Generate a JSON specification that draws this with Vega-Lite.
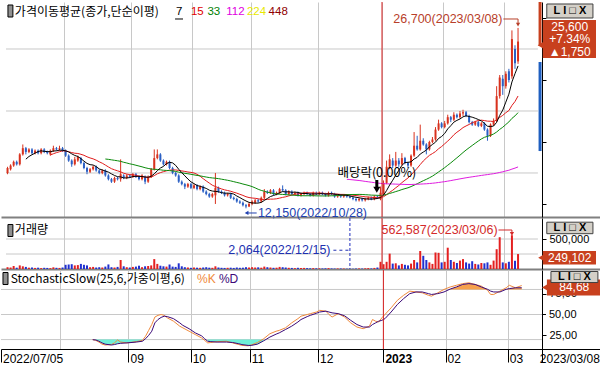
{
"$schema": "https://vega.github.io/schema/vega-lite/v6.json",
"padding": 0,
"spacing": 1,
"bounds": "flush",
"background": "white",
"config": {"view": {"stroke": null}, "text": {"font": "Liberation Sans"}, "axis": {"labelOverlap": false}},
"datasets": {"p": [
{"i":0,"o":15000,"h":15500,"l":14900,"c":15400,"v":30000},
{"i":1,"o":15300,"h":15700,"l":15200,"c":15600,"v":25000},
{"i":2,"o":15600,"h":16000,"l":15500,"c":15900,"v":50000},
{"i":3,"o":15900,"h":16000,"l":15600,"c":15700,"v":22000},
{"i":4,"o":15700,"h":16600,"l":15600,"c":16500,"v":60000},
{"i":5,"o":16500,"h":17300,"l":16400,"c":17000,"v":45000},
{"i":6,"o":17000,"h":17100,"l":16500,"c":16700,"v":35000},
{"i":7,"o":16700,"h":17000,"l":16600,"c":16900,"v":22000},
{"i":8,"o":16900,"h":17000,"l":16500,"c":16600,"v":25000},
{"i":9,"o":16600,"h":16900,"l":16500,"c":16800,"v":18000},
{"i":10,"o":16800,"h":16900,"l":16500,"c":16600,"v":22000},
{"i":11,"o":16600,"h":17000,"l":16500,"c":16900,"v":15000},
{"i":12,"o":16900,"h":17000,"l":16600,"c":16700,"v":20000},
{"i":13,"o":16700,"h":16800,"l":16500,"c":16600,"v":18000},
{"i":14,"o":16500,"h":16900,"l":16400,"c":16800,"v":15000},
{"i":15,"o":16800,"h":17200,"l":16700,"c":17000,"v":28000},
{"i":16,"o":17000,"h":17100,"l":16800,"c":16900,"v":20000},
{"i":17,"o":16900,"h":17200,"l":16800,"c":17000,"v":18000},
{"i":18,"o":17000,"h":17100,"l":16700,"c":16800,"v":25000},
{"i":19,"o":16800,"h":16900,"l":16300,"c":16400,"v":70000},
{"i":20,"o":16400,"h":16500,"l":15900,"c":16000,"v":75000},
{"i":21,"o":16000,"h":16100,"l":15500,"c":15700,"v":80000},
{"i":22,"o":15700,"h":16300,"l":15600,"c":16100,"v":60000},
{"i":23,"o":16000,"h":16400,"l":15900,"c":16300,"v":65000},
{"i":24,"o":16200,"h":16300,"l":15700,"c":15800,"v":85000},
{"i":25,"o":15800,"h":15900,"l":15300,"c":15400,"v":70000},
{"i":26,"o":15400,"h":15500,"l":14900,"c":15100,"v":60000},
{"i":27,"o":15100,"h":15400,"l":15000,"c":15300,"v":30000},
{"i":28,"o":15300,"h":15600,"l":15200,"c":15500,"v":35000},
{"i":29,"o":15500,"h":15600,"l":15100,"c":15200,"v":25000,"k":20,"d":19.8},
{"i":30,"o":15200,"h":15300,"l":14900,"c":15000,"v":30000,"k":19,"d":19.5},
{"i":31,"o":15000,"h":15300,"l":14900,"c":15200,"v":25000,"k":17,"d":18},
{"i":32,"o":15200,"h":15300,"l":14700,"c":14800,"v":40000,"k":14.5,"d":16},
{"i":33,"o":14800,"h":14900,"l":14400,"c":14500,"v":76000,"k":13.5,"d":14.5},
{"i":34,"o":14500,"h":14600,"l":14200,"c":14300,"v":30000},
{"i":35,"o":14300,"h":14700,"l":14200,"c":14600,"v":25000,"k":14,"d":13.5},
{"i":36,"o":14600,"h":14700,"l":14400,"c":14500,"v":35000,"k":16,"d":14},
{"i":37,"o":14500,"h":16100,"l":14300,"c":14900,"v":150000,"k":19.5,"d":15},
{"i":38,"o":14800,"h":14900,"l":14500,"c":14600,"v":45000,"k":17,"d":15.5},
{"i":39,"o":14600,"h":14900,"l":14500,"c":14800,"v":30000},
{"i":40,"o":14800,"h":14900,"l":14600,"c":14700,"v":25000,"k":16,"d":16},
{"i":41,"o":14700,"h":15000,"l":14600,"c":14900,"v":35000},
{"i":42,"o":14900,"h":15000,"l":14600,"c":14700,"v":40000},
{"i":43,"o":14700,"h":14800,"l":14400,"c":14500,"v":55000,"k":17.5,"d":17},
{"i":44,"o":14500,"h":14900,"l":14400,"c":14800,"v":30000},
{"i":45,"o":14700,"h":14800,"l":14100,"c":14300,"v":45000,"k":19,"d":18},
{"i":46,"o":14300,"h":14800,"l":14200,"c":14700,"v":50000,"k":24,"d":21},
{"i":47,"o":14700,"h":15400,"l":14600,"c":15300,"v":60000,"k":31,"d":25},
{"i":48,"o":15300,"h":16900,"l":15200,"c":16200,"v":165000,"k":38,"d":30},
{"i":49,"o":16200,"h":16900,"l":16100,"c":16500,"v":85000,"k":47,"d":40},
{"i":50,"o":16500,"h":16600,"l":15900,"c":16000,"v":55000,"k":49,"d":44},
{"i":51,"o":16000,"h":16100,"l":15600,"c":15700,"v":45000,"k":50,"d":46.5},
{"i":52,"o":15700,"h":16000,"l":15600,"c":15900,"v":40000,"k":49,"d":48},
{"i":53,"o":15900,"h":16000,"l":15300,"c":15400,"v":75000,"k":46,"d":47.5},
{"i":54,"o":15400,"h":15500,"l":14900,"c":15000,"v":40000},
{"i":55,"o":15000,"h":15100,"l":14700,"c":14800,"v":35000,"k":42,"d":45},
{"i":56,"o":14800,"h":14900,"l":14200,"c":14300,"v":95000},
{"i":57,"o":14300,"h":14400,"l":14000,"c":14100,"v":45000,"k":36,"d":40},
{"i":58,"o":14100,"h":14200,"l":13700,"c":13900,"v":30000,"k":34,"d":37},
{"i":59,"o":13900,"h":14200,"l":13800,"c":14100,"v":25000},
{"i":60,"o":14100,"h":14200,"l":13700,"c":13800,"v":20000,"k":30,"d":33},
{"i":61,"o":13800,"h":14100,"l":13700,"c":14000,"v":25000},
{"i":62,"o":14000,"h":14100,"l":13600,"c":13700,"v":22000,"k":26,"d":28},
{"i":63,"o":13700,"h":14000,"l":13600,"c":13900,"v":20000},
{"i":64,"o":13900,"h":14000,"l":13400,"c":13500,"v":25000,"k":22,"d":24.5},
{"i":65,"o":13500,"h":13600,"l":13200,"c":13300,"v":30000,"k":19,"d":21},
{"i":66,"o":13300,"h":13400,"l":13000,"c":13100,"v":22000,"k":16,"d":18},
{"i":67,"o":13100,"h":13400,"l":13000,"c":13300,"v":20000,"k":16.5,"d":17.5},
{"i":68,"o":13200,"h":15000,"l":12500,"c":13800,"v":45000},
{"i":69,"o":13800,"h":13900,"l":13400,"c":13500,"v":25000,"k":17.5,"d":17},
{"i":70,"o":13500,"h":13600,"l":13300,"c":13400,"v":20000},
{"i":71,"o":13400,"h":13500,"l":13100,"c":13200,"v":18000},
{"i":72,"o":13200,"h":13400,"l":13100,"c":13300,"v":20000,"k":18,"d":17},
{"i":73,"o":13300,"h":13400,"l":12900,"c":13000,"v":22000},
{"i":74,"o":13000,"h":13100,"l":12800,"c":12900,"v":18000,"k":16,"d":16.5},
{"i":75,"o":12900,"h":13000,"l":12600,"c":12700,"v":25000},
{"i":76,"o":12700,"h":12800,"l":12500,"c":12600,"v":20000,"k":14,"d":15},
{"i":77,"o":12600,"h":12700,"l":12300,"c":12400,"v":22000,"k":13,"d":14},
{"i":78,"o":12400,"h":12500,"l":12150,"c":12300,"v":30000},
{"i":79,"o":12300,"h":12600,"l":12250,"c":12500,"v":25000,"k":12.5,"d":13},
{"i":80,"o":12500,"h":12800,"l":12400,"c":12700,"v":30000,"k":13.5,"d":13},
{"i":81,"o":12600,"h":12900,"l":12500,"c":12800,"v":25000},
{"i":82,"o":12800,"h":12900,"l":12600,"c":12700,"v":28000,"k":16.5,"d":14.5},
{"i":83,"o":12700,"h":13100,"l":12600,"c":13000,"v":22000},
{"i":84,"o":13000,"h":13700,"l":12900,"c":13500,"v":40000,"k":21,"d":18.5},
{"i":85,"o":13500,"h":13600,"l":13300,"c":13400,"v":30000},
{"i":86,"o":13400,"h":13700,"l":13300,"c":13600,"v":25000,"k":27,"d":23},
{"i":87,"o":13600,"h":13700,"l":13200,"c":13300,"v":20000},
{"i":88,"o":13300,"h":13500,"l":13200,"c":13400,"v":22000,"k":30,"d":26.5},
{"i":89,"o":13400,"h":13800,"l":13300,"c":13700,"v":35000,"k":31,"d":28},
{"i":90,"o":13700,"h":14000,"l":13500,"c":13600,"v":30000},
{"i":91,"o":13600,"h":13700,"l":13200,"c":13300,"v":25000,"k":34,"d":32},
{"i":92,"o":13300,"h":13600,"l":13200,"c":13500,"v":20000},
{"i":93,"o":13500,"h":13600,"l":13200,"c":13300,"v":18000,"k":40,"d":36},
{"i":94,"o":13300,"h":13500,"l":13200,"c":13400,"v":15000},
{"i":95,"o":13400,"h":13500,"l":13100,"c":13200,"v":20000,"k":45,"d":41},
{"i":96,"o":13200,"h":13400,"l":13100,"c":13300,"v":15000,"k":48,"d":44},
{"i":97,"o":13300,"h":13500,"l":13200,"c":13400,"v":18000},
{"i":98,"o":13400,"h":13500,"l":13200,"c":13300,"v":15000,"k":50,"d":47.5},
{"i":99,"o":13300,"h":13400,"l":13100,"c":13200,"v":12000,"k":51,"d":49},
{"i":100,"o":13200,"h":13500,"l":13100,"c":13400,"v":15000},
{"i":101,"o":13400,"h":13500,"l":13200,"c":13300,"v":12000,"k":53,"d":51.5},
{"i":102,"o":13300,"h":13500,"l":13200,"c":13400,"v":12000,"k":55,"d":53},
{"i":103,"o":13400,"h":13500,"l":13200,"c":13300,"v":10000},
{"i":104,"o":13300,"h":13400,"l":13100,"c":13200,"v":12000,"k":54,"d":54},
{"i":105,"o":13200,"h":13500,"l":13100,"c":13400,"v":15000,"k":50,"d":53},
{"i":106,"o":13400,"h":13500,"l":13200,"c":13300,"v":10000,"k":47,"d":52},
{"i":107,"o":13300,"h":13400,"l":13000,"c":13100,"v":8000},
{"i":108,"o":13100,"h":13300,"l":13000,"c":13200,"v":10000,"k":51,"d":51},
{"i":109,"o":13200,"h":13300,"l":13000,"c":13100,"v":9000},
{"i":110,"o":13100,"h":13300,"l":13000,"c":13200,"v":8000,"k":47,"d":48.5},
{"i":111,"o":13200,"h":13300,"l":13000,"c":13100,"v":6000},
{"i":112,"o":13100,"h":13200,"l":12950,"c":13000,"v":2064,"k":40,"d":43},
{"i":113,"o":13000,"h":13100,"l":12800,"c":12900,"v":5000},
{"i":114,"o":12900,"h":13000,"l":12700,"c":12800,"v":8000,"k":35,"d":38},
{"i":115,"o":12800,"h":13000,"l":12700,"c":12900,"v":10000},
{"i":116,"o":12900,"h":13000,"l":12700,"c":12800,"v":8000,"k":33,"d":35},
{"i":117,"o":12800,"h":13000,"l":12700,"c":12900,"v":12000},
{"i":118,"o":12900,"h":13100,"l":12800,"c":13000,"v":15000,"k":36,"d":35},
{"i":119,"o":13000,"h":13100,"l":12800,"c":12900,"v":10000,"k":44,"d":38},
{"i":120,"o":12900,"h":13200,"l":12800,"c":13100,"v":18000,"k":42,"d":40},
{"i":121,"o":13100,"h":13200,"l":12900,"c":13000,"v":25000,"k":41,"d":42},
{"i":122,"o":12900,"h":13900,"l":12800,"c":13400,"v":120000,"k":46,"d":43},
{"i":123,"o":13300,"h":14400,"l":13200,"c":14200,"v":80000,"k":50,"d":45},
{"i":124,"o":14200,"h":16000,"l":14100,"c":15500,"v":120000},
{"i":125,"o":15500,"h":16500,"l":15300,"c":16100,"v":256000,"k":58,"d":53},
{"i":126,"o":16000,"h":16200,"l":15400,"c":15600,"v":90000},
{"i":127,"o":15600,"h":16700,"l":15500,"c":16000,"v":95000,"k":67,"d":62},
{"i":128,"o":16000,"h":16200,"l":15500,"c":15700,"v":60000},
{"i":129,"o":15700,"h":16600,"l":15600,"c":16200,"v":85000,"k":73,"d":69},
{"i":130,"o":16200,"h":16300,"l":15700,"c":15800,"v":70000},
{"i":131,"o":15800,"h":15900,"l":15400,"c":15600,"v":60000,"k":78,"d":75},
{"i":132,"o":15600,"h":16500,"l":15500,"c":16400,"v":90000},
{"i":133,"o":16400,"h":18300,"l":16300,"c":17200,"v":150000,"k":77,"d":77},
{"i":134,"o":17200,"h":18000,"l":16800,"c":16900,"v":110000},
{"i":135,"o":16900,"h":18900,"l":16800,"c":17600,"v":300000,"k":76,"d":77},
{"i":136,"o":17600,"h":17800,"l":17200,"c":17300,"v":220000},
{"i":137,"o":17300,"h":17400,"l":16500,"c":16900,"v":150000,"k":73,"d":75},
{"i":138,"o":16900,"h":17600,"l":16800,"c":17500,"v":110000,"k":72,"d":74},
{"i":139,"o":17500,"h":17900,"l":17400,"c":17700,"v":85000},
{"i":140,"o":17700,"h":18700,"l":17600,"c":18500,"v":275000,"k":76,"d":75},
{"i":141,"o":18500,"h":19300,"l":18400,"c":19000,"v":270000},
{"i":142,"o":19000,"h":19100,"l":18600,"c":18700,"v":110000,"k":80,"d":77},
{"i":143,"o":18700,"h":19200,"l":18600,"c":19000,"v":120000},
{"i":144,"o":19000,"h":19700,"l":18900,"c":19500,"v":355000,"k":83,"d":80.5},
{"i":145,"o":19500,"h":19600,"l":19100,"c":19300,"v":150000},
{"i":146,"o":19300,"h":19900,"l":19200,"c":19700,"v":120000,"k":85,"d":83},
{"i":147,"o":19700,"h":19800,"l":19400,"c":19500,"v":100000},
{"i":148,"o":19500,"h":20000,"l":19400,"c":19800,"v":140000,"k":87,"d":86},
{"i":149,"o":19800,"h":20100,"l":19600,"c":19900,"v":165000},
{"i":150,"o":19900,"h":20000,"l":19500,"c":19600,"v":110000,"k":88,"d":87},
{"i":151,"o":19600,"h":19700,"l":19000,"c":19100,"v":90000},
{"i":152,"o":19100,"h":19200,"l":18800,"c":18900,"v":130000,"k":86,"d":86},
{"i":153,"o":18900,"h":19200,"l":18800,"c":19100,"v":85000},
{"i":154,"o":19100,"h":19200,"l":18700,"c":18800,"v":75000,"k":84,"d":83},
{"i":155,"o":18800,"h":19100,"l":18700,"c":19000,"v":100000},
{"i":156,"o":19000,"h":19100,"l":18400,"c":18500,"v":95000,"k":79,"d":80.2},
{"i":157,"o":18500,"h":18600,"l":17600,"c":18000,"v":110000,"k":74,"d":78},
{"i":158,"o":18000,"h":19000,"l":17900,"c":18900,"v":70000,"k":74,"d":77},
{"i":159,"o":18900,"h":19400,"l":18800,"c":19200,"v":140000},
{"i":160,"o":19200,"h":22000,"l":19100,"c":21200,"v":330000,"k":78,"d":77},
{"i":161,"o":21200,"h":22900,"l":21000,"c":22700,"v":530000},
{"i":162,"o":22600,"h":22900,"l":21300,"c":22000,"v":110000,"k":82,"d":80.2},
{"i":163,"o":22000,"h":23200,"l":21800,"c":23000,"v":95000,"k":85,"d":81},
{"i":164,"o":23200,"h":23400,"l":22300,"c":22500,"v":120000},
{"i":165,"o":22800,"h":26500,"l":22600,"c":25800,"v":562587,"k":82,"d":82},
{"i":166,"o":25000,"h":25300,"l":23400,"c":23850,"v":137000},
{"i":167,"o":24000,"h":26700,"l":23800,"c":25600,"v":249102,"k":84.7,"d":82}
]},
"vconcat": [
{
"width": 600, "height": 215,
"data": {"name": "p"},
"layer": [
{"data": {"values": [{}]}, "mark": {"type": "rule", "color": "#c8c8c8"}, "encoding": {"x": {"datum": -0.5}, "x2": {"datum": 173.5}, "y": {"datum": 15000}}},
{"data": {"values": [{}]}, "mark": {"type": "rule", "color": "#c8c8c8"}, "encoding": {"x": {"datum": -0.5}, "x2": {"datum": 173.5}, "y": {"datum": 20000}}},
{"data": {"values": [{}]}, "mark": {"type": "rule", "color": "#c8c8c8"}, "encoding": {"x": {"datum": -0.5}, "x2": {"datum": 173.5}, "y": {"datum": 25000}}},
{"mark": {"type": "rule", "strokeWidth": 1},
 "encoding": {
  "x": {"field": "i", "type": "quantitative", "scale": {"domain": [-0.5, 192.5], "nice": false, "zero": false},
        "axis": {"title": null, "orient": "bottom", "values": [18.5,40.5,60.5,79.5,101.5,122.5,142.5,162.5], "grid": true, "gridColor": "#c8c8c8", "labels": false, "ticks": false, "domain": true, "domainColor": "#808080", "domainWidth": 2, "zindex": 0}},
  "y": {"field": "l", "type": "quantitative", "scale": {"domain": [11450, 28790], "nice": false, "zero": false},
        "axis": {"title": null, "orient": "right", "offset": -59, "values": [12500,13750,15000,16250,17500,18750,20000,21250,22500,23750,25000,26250,27500,28750], "labelExpr": "datum.value == 15000 || datum.value == 20000 ? format(datum.value, ',') : ''", "grid": false, "tickSize": 4, "tickColor": "#000000", "domainColor": "#000000", "labelColor": "#000000", "labelFontSize": 11, "labelPadding": 3, "labelFont": "Liberation Sans", "labelBaseline": "middle", "labelOverlap": false, "labelBound": false, "zindex": 0}},
  "y2": {"field": "h"},
  "color": {"condition": {"test": "datum.c >= datum.o", "value": "#d8321e"}, "value": "#2a5fc4"}
 }},
{"mark": {"type": "bar", "size": 2},
 "encoding": {"x": {"field": "i", "type": "quantitative"}, "y": {"field": "o", "type": "quantitative"}, "y2": {"field": "c"},
  "color": {"condition": {"test": "datum.c >= datum.o", "value": "#d8321e"}, "value": "#2a5fc4"}}},
{"mark": {"type": "line", "color": "#e01c1c", "strokeWidth": 1},
 "transform": [{"window": [{"op": "mean", "field": "c", "as": "m"}, {"op": "count", "field": "c", "as": "n"}], "frame": [-14, 0], "sort": [{"field": "i"}]}, {"filter": "datum.n >= 15"}],
 "encoding": {"x": {"field": "i", "type": "quantitative"}, "y": {"field": "m", "type": "quantitative"}}},
{"mark": {"type": "line", "color": "#0a8a0a", "strokeWidth": 1},
 "transform": [{"window": [{"op": "mean", "field": "c", "as": "m"}, {"op": "count", "field": "c", "as": "n"}], "frame": [-32, 0], "sort": [{"field": "i"}]}, {"filter": "datum.n >= 33"}],
 "encoding": {"x": {"field": "i", "type": "quantitative"}, "y": {"field": "m", "type": "quantitative"}}},
{"mark": {"type": "line", "color": "#e01ce0", "strokeWidth": 1},
 "transform": [{"window": [{"op": "mean", "field": "c", "as": "m"}, {"op": "count", "field": "c", "as": "n"}], "frame": [-111, 0], "sort": [{"field": "i"}]}, {"filter": "datum.n >= 112"}],
 "encoding": {"x": {"field": "i", "type": "quantitative"}, "y": {"field": "m", "type": "quantitative"}}},
{"mark": {"type": "line", "color": "#000000", "strokeWidth": 1},
 "transform": [{"window": [{"op": "mean", "field": "c", "as": "m"}, {"op": "count", "field": "c", "as": "n"}], "frame": [-6, 0], "sort": [{"field": "i"}]}, {"filter": "datum.n >= 7"}],
 "encoding": {"x": {"field": "i", "type": "quantitative"}, "y": {"field": "m", "type": "quantitative"}}},
{"data": {"values": [{}]}, "mark": {"type": "rule", "color": "#d81e1e", "strokeWidth": 1}, "encoding": {"x": {"datum": 122.5}}},
{"data": {"values": [{}]}, "mark": {"type": "text", "align": "right", "baseline": "middle", "fontSize": 12.5, "color": "#b8402a", "text": "26,700(2023/03/08)"}, "encoding": {"x": {"datum": 161.9}, "y": {"datum": 27419}}},
{"data": {"values": [{}]}, "mark": {"type": "rule", "color": "#b8402a"}, "encoding": {"x": {"datum": 162.2}, "x2": {"datum": 167}, "y": {"datum": 27419}}},
{"data": {"values": [{}]}, "mark": {"type": "rule", "color": "#b8402a"}, "encoding": {"x": {"datum": 167}, "y": {"datum": 27419}, "y2": {"datum": 27050}}},
{"data": {"values": [{}]}, "mark": {"type": "point", "shape": "triangle-down", "filled": true, "size": 18, "color": "#b8402a", "opacity": 1}, "encoding": {"x": {"datum": 167}, "y": {"datum": 26960}}},
{"data": {"values": [{}]}, "mark": {"type": "text", "align": "left", "baseline": "middle", "fontSize": 12.5, "color": "#2040b0", "text": "12,150(2022/10/28)"}, "encoding": {"x": {"datum": 81.9}, "y": {"datum": 11773}}},
{"data": {"values": [{}]}, "mark": {"type": "rule", "color": "#2040b0"}, "encoding": {"x": {"datum": 78.4}, "x2": {"datum": 81.5}, "y": {"datum": 11773}}},
{"data": {"values": [{}]}, "mark": {"type": "point", "shape": "triangle-left", "filled": true, "size": 18, "color": "#2040b0", "opacity": 1}, "encoding": {"x": {"datum": 78.2}, "y": {"datum": 11773}}},
{"data": {"values": [{}]}, "mark": {"type": "text", "align": "left", "baseline": "middle", "font": "Noto Sans CJK KR", "fontSize": 12.5, "color": "#000000", "text": "배당락(0.00%)"}, "encoding": {"x": {"datum": 107.9}, "y": {"datum": 15000}}},
{"data": {"values": [{}]}, "mark": {"type": "rule", "color": "#000000", "strokeWidth": 3}, "encoding": {"x": {"datum": 120.8}, "y": {"datum": 14435}, "y2": {"datum": 13870}}},
{"data": {"values": [{}]}, "mark": {"type": "point", "shape": "triangle-down", "filled": true, "size": 50, "color": "#000000", "opacity": 1}, "encoding": {"x": {"datum": 120.8}, "y": {"datum": 13650}}},
{"data": {"values": [{}]}, "mark": {"type": "rule", "color": "#c8401e", "strokeWidth": 3}, "encoding": {"x": {"datum": 174.2}, "y": {"datum": 28790}, "y2": {"datum": 25250}}},
{"data": {"values": [{}]}, "mark": {"type": "rule", "color": "#1f5fc0", "strokeWidth": 3}, "encoding": {"x": {"datum": 174.2}, "y": {"datum": 23950}, "y2": {"datum": 16770}}},
{"data": {"values": [{}]}, "mark": {"type": "rect", "color": "#c8401e"}, "encoding": {"x": {"datum": 175.1}, "x2": {"datum": 192.5}, "y": {"datum": 27338}, "y2": {"datum": 24274}}},
{"data": {"values": [{}]}, "mark": {"type": "point", "shape": "triangle-left", "filled": true, "size": 70, "color": "#c8401e", "opacity": 1}, "encoding": {"x": {"datum": 174.6}, "y": {"datum": 25300}}},
{"data": {"values": [{}]}, "mark": {"type": "text", "align": "center", "baseline": "middle", "fontSize": 12, "lineHeight": 12.5, "color": "#ffffff", "text": ["25,600", "+7.34%", "▲1,750"]}, "encoding": {"x": {"datum": 183.9}, "y": {"datum": 26774}}},
{"data": {"values": [{}]}, "mark": {"type": "rect", "color": "#d4d0c8", "stroke": "#404040", "strokeWidth": 1}, "encoding": {"x": {"datum": 176.4}, "x2": {"datum": 191.5}, "y": {"datum": 28629}, "y2": {"datum": 27500}}},
{"data": {"values": [{}]}, "mark": {"type": "text", "align": "center", "baseline": "middle", "fontSize": 11, "fontWeight": "bold", "color": "#000000", "text": "L I □ X"}, "encoding": {"x": {"datum": 183.97}, "y": {"datum": 28064}}},
{"data": {"values": [{}]}, "mark": {"type": "rect", "color": "#909090", "stroke": "#000000", "strokeWidth": 1}, "encoding": {"x": {"datum": 0.14}, "x2": {"datum": 1.75}, "y": {"datum": 28548}, "y2": {"datum": 27580}}},
{"data": {"values": [{}]}, "mark": {"type": "text", "align": "left", "baseline": "middle", "font": "Noto Sans CJK KR", "fontSize": 12, "color": "#000000", "text": "가격이동평균(종가,단순이평)"}, "encoding": {"x": {"datum": 2.4}, "y": {"datum": 27984}}},
{"data": {"values": [{}]}, "mark": {"type": "text", "align": "left", "baseline": "middle", "fontSize": 11.5, "color": "#000000", "text": "7"}, "encoding": {"x": {"datum": 55.15}, "y": {"datum": 27984}}},
{"data": {"values": [{}]}, "mark": {"type": "rule", "color": "#000000"}, "encoding": {"x": {"datum": 54.8}, "x2": {"datum": 57.4}, "y": {"datum": 27419}}},
{"data": {"values": [{}]}, "mark": {"type": "text", "align": "left", "baseline": "middle", "fontSize": 11.5, "color": "#e00000", "text": "15"}, "encoding": {"x": {"datum": 60.0}, "y": {"datum": 27984}}},
{"data": {"values": [{}]}, "mark": {"type": "text", "align": "left", "baseline": "middle", "fontSize": 11.5, "color": "#008000", "text": "33"}, "encoding": {"x": {"datum": 65.4}, "y": {"datum": 27984}}},
{"data": {"values": [{}]}, "mark": {"type": "text", "align": "left", "baseline": "middle", "fontSize": 11.5, "color": "#e000e0", "text": "112"}, "encoding": {"x": {"datum": 71.55}, "y": {"datum": 27984}}},
{"data": {"values": [{}]}, "mark": {"type": "text", "align": "left", "baseline": "middle", "fontSize": 11.5, "color": "#e8e800", "text": "224"}, "encoding": {"x": {"datum": 78.3}, "y": {"datum": 27984}}},
{"data": {"values": [{}]}, "mark": {"type": "text", "align": "left", "baseline": "middle", "fontSize": 11.5, "color": "#900000", "text": "448"}, "encoding": {"x": {"datum": 85.4}, "y": {"datum": 27984}}}
]
},
{
"width": 600, "height": 51,
"data": {"name": "p"},
"layer": [
{"data": {"values": [{}]}, "mark": {"type": "rule", "color": "#c8c8c8"}, "encoding": {"x": {"datum": -0.5}, "x2": {"datum": 173.5}, "y": {"datum": 250000}}},
{"data": {"values": [{}]}, "mark": {"type": "rule", "color": "#c8c8c8"}, "encoding": {"x": {"datum": -0.5}, "x2": {"datum": 173.5}, "y": {"datum": 500000}}},
{"mark": {"type": "bar", "size": 2},
 "encoding": {
  "x": {"field": "i", "type": "quantitative", "scale": {"domain": [-0.5, 192.5], "nice": false, "zero": false},
        "axis": {"title": null, "orient": "bottom", "values": [18.5,40.5,60.5,79.5,101.5,122.5,142.5,162.5], "grid": true, "gridColor": "#c8c8c8", "labels": false, "ticks": false, "domain": true, "domainColor": "#808080", "domainWidth": 2, "zindex": 0}},
  "y": {"field": "v", "type": "quantitative", "scale": {"domain": [0, 850000], "nice": false},
        "axis": {"title": null, "orient": "right", "offset": -59, "values": [250000, 500000], "labelExpr": "datum.value == 500000 ? '500,000' : ''", "grid": false, "tickSize": 4, "tickColor": "#000000", "domainColor": "#000000", "labelColor": "#000000", "labelFontSize": 11, "labelPadding": 3, "labelFont": "Liberation Sans", "labelBaseline": "middle", "labelOverlap": false, "labelBound": false, "zindex": 0}},
  "color": {"condition": {"test": "datum.c >= datum.o", "value": "#e42020"}, "value": "#2030d0"}
 }},
{"data": {"values": [{}]}, "mark": {"type": "rule", "color": "#d81e1e", "strokeWidth": 1}, "encoding": {"x": {"datum": 122.5}}},
{"data": {"values": [{}]}, "mark": {"type": "rule", "color": "#2030c0", "strokeWidth": 1, "strokeDash": [3, 2]}, "encoding": {"x": {"datum": 112}}},
{"data": {"values": [{}]}, "mark": {"type": "text", "align": "right", "baseline": "middle", "fontSize": 12.5, "color": "#d42a2a", "text": "562,587(2023/03/06)"}, "encoding": {"x": {"datum": 160.3}, "y": {"datum": 650000}}},
{"data": {"values": [{}]}, "mark": {"type": "rule", "color": "#d42a2a"}, "encoding": {"x": {"datum": 160.6}, "x2": {"datum": 165}, "y": {"datum": 650000}}},
{"data": {"values": [{}]}, "mark": {"type": "rule", "color": "#d42a2a"}, "encoding": {"x": {"datum": 165}, "y": {"datum": 650000}, "y2": {"datum": 600000}}},
{"data": {"values": [{}]}, "mark": {"type": "point", "shape": "triangle-down", "filled": true, "size": 18, "color": "#d42a2a", "opacity": 1}, "encoding": {"x": {"datum": 165}, "y": {"datum": 585000}}},
{"data": {"values": [{}]}, "mark": {"type": "text", "align": "right", "baseline": "middle", "fontSize": 12.5, "color": "#2030b0", "text": "2,064(2022/12/15)"}, "encoding": {"x": {"datum": 105.65}, "y": {"datum": 313000}}},
{"data": {"values": [{}]}, "mark": {"type": "rule", "color": "#2030b0", "strokeDash": [3, 3]}, "encoding": {"x": {"datum": 106.6}, "x2": {"datum": 111.9}, "y": {"datum": 313000}}},
{"data": {"values": [{}]}, "mark": {"type": "rect", "color": "#909090", "stroke": "#000000", "strokeWidth": 1}, "encoding": {"x": {"datum": 0.14}, "x2": {"datum": 1.75}, "y": {"datum": 741700}, "y2": {"datum": 541700}}},
{"data": {"values": [{}]}, "mark": {"type": "text", "align": "left", "baseline": "middle", "font": "Noto Sans CJK KR", "fontSize": 12, "color": "#000000", "text": "거래량"}, "encoding": {"x": {"datum": 2.4}, "y": {"datum": 641700}}},
{"data": {"values": [{}]}, "mark": {"type": "rect", "color": "#c8401e"}, "encoding": {"x": {"datum": 175.1}, "x2": {"datum": 192.5}, "y": {"datum": 300000}, "y2": {"datum": 75000}}},
{"data": {"values": [{}]}, "mark": {"type": "point", "shape": "triangle-left", "filled": true, "size": 50, "color": "#c8401e", "opacity": 1}, "encoding": {"x": {"datum": 174.6}, "y": {"datum": 188300}}},
{"data": {"values": [{}]}, "mark": {"type": "text", "align": "center", "baseline": "middle", "fontSize": 12, "color": "#ffffff", "text": "249,102"}, "encoding": {"x": {"datum": 183.9}, "y": {"datum": 188300}}},
{"data": {"values": [{}]}, "mark": {"type": "rect", "color": "#d4d0c8", "stroke": "#404040", "strokeWidth": 1}, "encoding": {"x": {"datum": 176.4}, "x2": {"datum": 191.5}, "y": {"datum": 780000}, "y2": {"datum": 588300}}},
{"data": {"values": [{}]}, "mark": {"type": "text", "align": "center", "baseline": "middle", "fontSize": 11, "fontWeight": "bold", "color": "#000000", "text": "L I □ X"}, "encoding": {"x": {"datum": 183.97}, "y": {"datum": 683300}}}
]
},
{
"width": 600, "height": 79,
"data": {"name": "p"},
"layer": [
{"data": {"values": [{}]}, "mark": {"type": "rule", "color": "#c8c8c8"}, "encoding": {"x": {"datum": -0.5}, "x2": {"datum": 173.5}, "y": {"datum": 20}}},
{"data": {"values": [{}]}, "mark": {"type": "rule", "color": "#c8c8c8"}, "encoding": {"x": {"datum": -0.5}, "x2": {"datum": 173.5}, "y": {"datum": 50}}},
{"data": {"values": [{}]}, "mark": {"type": "rule", "color": "#c8c8c8"}, "encoding": {"x": {"datum": -0.5}, "x2": {"datum": 173.5}, "y": {"datum": 80}}},
{"mark": {"type": "area", "color": "#6ff0d8", "opacity": 1}, "transform": [{"filter": "isValid(datum.d) && datum.d < 20 && datum.i < 50"}],
 "encoding": {"x": {"field": "i", "type": "quantitative"}, "y": {"field": "d", "type": "quantitative"}, "y2": {"datum": 20}}},
{"mark": {"type": "area", "color": "#6ff0d8", "opacity": 1}, "transform": [{"filter": "isValid(datum.d) && datum.d < 20 && datum.i >= 50 && datum.i < 100"}],
 "encoding": {"x": {"field": "i", "type": "quantitative"}, "y": {"field": "d", "type": "quantitative"}, "y2": {"datum": 20}}},
{"mark": {"type": "area", "color": "#f6a04c", "opacity": 1}, "transform": [{"filter": "isValid(datum.d) && datum.d > 80 && datum.i < 160"}],
 "encoding": {"x": {"field": "i", "type": "quantitative"}, "y": {"field": "d", "type": "quantitative"}, "y2": {"datum": 80}}},
{"mark": {"type": "area", "color": "#f6a04c", "opacity": 1}, "transform": [{"filter": "isValid(datum.d) && datum.d > 80 && datum.i >= 160"}],
 "encoding": {"x": {"field": "i", "type": "quantitative"}, "y": {"field": "d", "type": "quantitative"}, "y2": {"datum": 80}}},
{"mark": {"type": "line", "color": "#f08a3c", "strokeWidth": 1}, "transform": [{"filter": "isValid(datum.k)"}],
 "encoding": {
  "x": {"field": "i", "type": "quantitative", "scale": {"domain": [-0.5, 192.5], "nice": false, "zero": false},
        "axis": {"title": null, "orient": "bottom", "values": [-0.5,18.5,40.5,60.5,79.5,101.5,122.5,142.5,162.5,173.5,191.5],
                 "labelExpr": "datum.value == -0.5 ? '2022/07/05' : datum.value == 40.5 ? '09' : datum.value == 60.5 ? '10' : datum.value == 79.5 ? '11' : datum.value == 101.5 ? '12' : datum.value == 122.5 ? '2023' : datum.value == 142.5 ? '02' : datum.value == 162.5 ? '03' : datum.value == 191.5 ? '2023/03/08' : ''",
                 "grid": true, "gridColor": "#c8c8c8", "gridOpacity": {"condition": {"test": "datum.value < 0 || datum.value > 170", "value": 0}, "value": 1},
                 "ticks": true, "tickSize": 13, "tickColor": "#000000", "tickOpacity": {"condition": {"test": "datum.value == 18.5 || datum.value > 190", "value": 0}, "value": 1},
                 "domain": true, "domainColor": "#000000", "domainWidth": 1,
                 "labelAlign": {"condition": {"test": "datum.value > 190", "value": "right"}, "value": "left"},
                 "labelFontWeight": {"condition": {"test": "datum.value == 122.5", "value": "bold"}, "value": "normal"},
                 "labelBaseline": "middle", "labelPadding": -3.5, "labelOffset": 1.5, "labelFontSize": 12, "labelColor": "#000000", "labelFont": "Liberation Sans",
                 "labelOverlap": false, "labelBound": false, "labelFlush": false, "zindex": 0}},
  "y": {"field": "k", "type": "quantitative", "scale": {"domain": [8.7, 103.3], "nice": false, "zero": false},
        "axis": {"title": null, "orient": "right", "offset": -59, "values": [25, 50, 75], "labelExpr": "datum.value == 25 ? '25,00' : datum.value == 75 ? '75,00' : ''", "grid": false, "tickSize": 4, "tickColor": "#000000", "domainColor": "#000000", "labelColor": "#000000", "labelFontSize": 11, "labelPadding": 3, "labelFont": "Liberation Sans", "labelBaseline": "middle", "labelOverlap": false, "labelBound": false, "labelFlush": false, "zindex": 0}}
 }},
{"mark": {"type": "line", "color": "#3c0a78", "strokeWidth": 1}, "transform": [{"filter": "isValid(datum.d)"}],
 "encoding": {"x": {"field": "i", "type": "quantitative"}, "y": {"field": "d", "type": "quantitative"}}},
{"data": {"values": [{}]}, "mark": {"type": "rule", "color": "#d81e1e", "strokeWidth": 1}, "encoding": {"x": {"datum": 122.5}}},
{"data": {"values": [{}]}, "mark": {"type": "rule", "color": "#000000", "strokeWidth": 1}, "encoding": {"x": {"datum": 173.5}, "x2": {"datum": 174.8}, "y": {"datum": 50}}},
{"data": {"values": [{}]}, "mark": {"type": "text", "align": "left", "baseline": "middle", "fontSize": 11, "color": "#000000", "text": "50,00"}, "encoding": {"x": {"datum": 175.77}, "y": {"datum": 50}}},
{"data": {"values": [{}]}, "mark": {"type": "rect", "color": "#909090", "stroke": "#000000", "strokeWidth": 1}, "encoding": {"x": {"datum": 0.14}, "x2": {"datum": 1.75}, "y": {"datum": 100.3}, "y2": {"datum": 85.9}}},
{"data": {"values": [{}]}, "mark": {"type": "text", "align": "left", "baseline": "middle", "font": "Noto Sans CJK KR", "fontSize": 12, "color": "#000000", "text": "StochasticSlow(25,6,가중이평,6)"}, "encoding": {"x": {"datum": 2.6}, "y": {"datum": 93.1}}},
{"data": {"values": [{}]}, "mark": {"type": "text", "align": "left", "baseline": "middle", "fontSize": 12, "color": "#f08a3c", "text": "%K"}, "encoding": {"x": {"datum": 62.55}, "y": {"datum": 93.1}}},
{"data": {"values": [{}]}, "mark": {"type": "text", "align": "left", "baseline": "middle", "fontSize": 12, "color": "#3c0a78", "text": "%D"}, "encoding": {"x": {"datum": 69.6}, "y": {"datum": 93.1}}},
{"data": {"values": [{}]}, "mark": {"type": "rect", "color": "#c8401e"}, "encoding": {"x": {"datum": 175.1}, "x2": {"datum": 192.5}, "y": {"datum": 91.9}, "y2": {"datum": 72.8}}},
{"data": {"values": [{}]}, "mark": {"type": "point", "shape": "triangle-left", "filled": true, "size": 60, "color": "#c8401e", "opacity": 1}, "encoding": {"x": {"datum": 174.6}, "y": {"datum": 82.35}}},
{"data": {"values": [{}]}, "mark": {"type": "text", "align": "center", "baseline": "middle", "fontSize": 12, "color": "#ffffff", "text": "84,68"}, "encoding": {"x": {"datum": 183.9}, "y": {"datum": 82.35}}},
{"data": {"values": [{}]}, "mark": {"type": "rect", "color": "#d4d0c8", "stroke": "#404040", "strokeWidth": 1}, "encoding": {"x": {"datum": 176.4}, "x2": {"datum": 191.5}, "y": {"datum": 101.5}, "y2": {"datum": 88.3}}},
{"data": {"values": [{}]}, "mark": {"type": "text", "align": "center", "baseline": "middle", "fontSize": 11, "fontWeight": "bold", "color": "#000000", "text": "L I □ X"}, "encoding": {"x": {"datum": 183.97}, "y": {"datum": 94.9}}}
]
}
]
}
